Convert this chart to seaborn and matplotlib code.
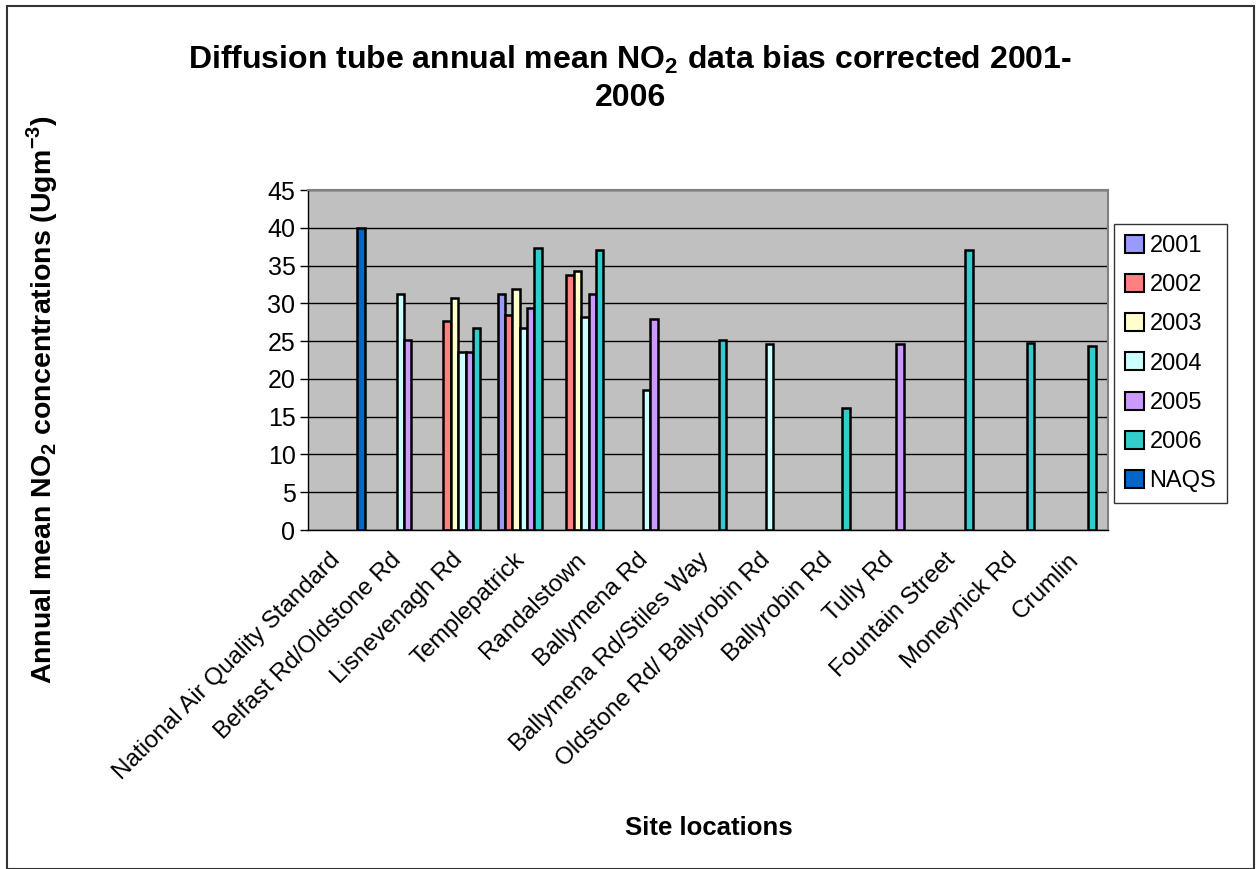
import numpy as np
import pandas as pd
import matplotlib
matplotlib.use("Agg")
import matplotlib.pyplot as plt
import matplotlib.transforms as mtransforms
import seaborn as sns
from matplotlib.patches import Rectangle, Patch

nan = np.nan
categories = ["National Air Quality Standard", "Belfast Rd/Oldstone Rd", "Lisnevenagh Rd",
              "Templepatrick", "Randalstown", "Ballymena Rd", "Ballymena Rd/Stiles Way",
              "Oldstone Rd/ Ballyrobin Rd", "Ballyrobin Rd", "Tully Rd", "Fountain Street",
              "Moneynick Rd", "Crumlin"]
series_names = ["2001", "2002", "2003", "2004", "2005", "2006", "NAQS"]
y2001 = [nan, nan, nan, 31.2, nan, nan, nan, nan, nan, nan, nan, nan, nan]
y2002 = [nan, nan, 27.6, 28.5, 33.7, nan, nan, nan, nan, nan, nan, nan, nan]
y2003 = [nan, nan, 30.7, 31.9, 34.3, nan, nan, nan, nan, nan, nan, nan, nan]
y2004 = [nan, 31.2, 23.6, 26.7, 28.2, 18.5, nan, 24.6, nan, nan, nan, nan, nan]
y2005 = [nan, 25.1, 23.6, 29.4, 31.2, 27.9, nan, nan, nan, 24.6, nan, nan, nan]
y2006 = [nan, nan, 26.7, 37.3, 37.0, nan, 25.1, nan, 16.1, nan, 37.0, 24.8, 24.3]
naqs = [40.0, nan, nan, nan, nan, nan, nan, nan, nan, nan, nan, nan, nan]
colors = ["#9999FF", "#FF8080", "#FFFFCC", "#CCFFFF", "#CC99FF", "#33CCCC", "#0066CC"]

rows = []
for name, vals in zip(series_names, [y2001, y2002, y2003, y2004, y2005, y2006, naqs]):
    for c, v in zip(categories, vals):
        rows.append({"site": c, "series": name, "value": v})
df = pd.DataFrame(rows)

sns.set_theme(style="white")
plt.rcParams["font.family"] = ["Liberation Sans", "DejaVu Sans"]
plt.rcParams["text.color"] = "black"
plt.rcParams["xtick.color"] = "black"
plt.rcParams["ytick.color"] = "black"
plt.rcParams["mathtext.fontset"] = "custom"
plt.rcParams["mathtext.rm"] = "Liberation Sans"
plt.rcParams["mathtext.bf"] = "Liberation Sans:bold"

fig = plt.figure(figsize=(12.59, 8.69), dpi=100)
fig.patch.set_facecolor("white")
ax = fig.add_axes([308/1259, 1-530/869, 800/1259, 340/869])

sns.barplot(data=df, x="site", y="value", hue="series", order=categories,
            hue_order=series_names, palette=colors, width=0.84, dodge=True,
            edgecolor="black", linewidth=1.8, ax=ax, legend=False, saturation=1)

ax.set_facecolor("#C0C0C0")
ax.set_ylim(0, 45)
ax.set_xlim(-0.5, len(categories) - 0.5)
ax.set_yticks(np.arange(0, 46, 5))
ax.yaxis.grid(True, color="black", linewidth=1.0)
ax.set_axisbelow(True)
for s in ["top", "right"]:
    ax.spines[s].set_color("#808080")
    ax.spines[s].set_linewidth(1.5)
for s in ["left", "bottom"]:
    ax.spines[s].set_color("black")
    ax.spines[s].set_linewidth(1.0)

ax.set_xticks(range(len(categories)))
ax.set_xticklabels(categories, rotation=45, ha="right", rotation_mode="anchor", fontsize=17.5)
ax.set_xticks(np.arange(-0.5, len(categories), 1.0), minor=True)
ax.tick_params(axis="x", which="major", length=0, pad=12)
ax.tick_params(axis="x", which="minor", length=6, width=1, color="black", direction="out")
ax.tick_params(axis="y", which="major", length=6, width=1, color="black", direction="out",
               labelsize=18, left=True, pad=3)
offset = mtransforms.ScaledTranslation(-10/100, -2/100, fig.dpi_scale_trans)
for lbl in ax.get_xticklabels():
    lbl.set_transform(lbl.get_transform() + offset)
ax.set_xlabel("")
ax.set_ylabel("")

fig.text(630/1259, 1-78/869,
         "Diffusion tube annual mean NO$_\\mathbf{2}$ data bias corrected 2001-\n2006",
         ha="center", va="center", fontsize=23, fontweight="bold", linespacing=1.3)
fig.text(42/1259, 1-400/869,
         "Annual mean NO$_\\mathbf{2}$ concentrations (Ugm$^{\\mathbf{-3}}$)",
         ha="center", va="center", rotation=90, fontsize=20.5, fontweight="bold")
fig.text(709/1259, 1-828/869, "Site locations", ha="center", va="center",
         fontsize=18.5, fontweight="bold")

handles = [Patch(facecolor=c, edgecolor="black", linewidth=1.5, label=n)
           for c, n in zip(colors, series_names)]
leg = fig.legend(handles=handles, loc="upper left",
                 bbox_to_anchor=(1114/1259, 1-224/869), fontsize=17, frameon=True,
                 fancybox=False, edgecolor="black", handlelength=0.8, handleheight=0.8,
                 handletextpad=0.25, labelspacing=0.72, borderpad=0.45, borderaxespad=0)
leg.get_frame().set_linewidth(1.0)

fig.patches.append(Rectangle((7/1259, 0), 1247/1259, 1-6/869, transform=fig.transFigure,
                             fill=False, edgecolor="#333333", linewidth=1.5))

fig.savefig("out.png", dpi=100)
